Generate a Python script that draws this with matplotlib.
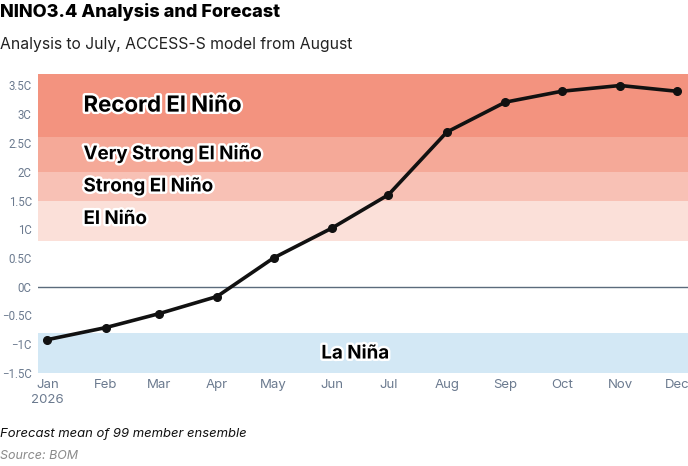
import matplotlib
matplotlib.use("Agg")
import matplotlib.pyplot as plt
import matplotlib.patheffects as pe
import matplotlib.dates as mdates
from datetime import date

plt.rcParams['font.family'] = ['Inter', 'DejaVu Sans']

months = ["Jan", "Feb", "Mar", "Apr", "May", "Jun", "Jul", "Aug", "Sep", "Oct", "Nov", "Dec"]
values = [-0.92, -0.71, -0.47, -0.17, 0.50, 1.02, 1.60, 2.69, 3.21, 3.40, 3.50, 3.40]
dates = [date(2026, m, 1) for m in range(1, 13)]
yticks = [-1.5, -1.0, -0.5, 0.0, 0.5, 1.0, 1.5, 2.0, 2.5, 3.0, 3.5]
ytick_labels = ["−1.5C", "−1C", "−0.5C", "0C", "0.5C", "1C", "1.5C", "2C", "2.5C", "3C", "3.5C"]

bands = [
    ("Record El Niño", 2.6, 3.7, "#f3937f"),
    ("Very Strong El Niño", 2.0, 2.6, "#f5a998"),
    ("Strong El Niño", 1.5, 2.0, "#f8c1b5"),
    ("El Niño", 0.8, 1.5, "#fbe0d9"),
    ("La Niña", -1.5, -0.8, "#d3e8f5"),
]

fig = plt.figure(figsize=(6.88, 4.66), dpi=100)
ax = fig.add_axes([38/688, 93/466, 650/688, 299/466])

for name, lo, hi, col in bands:
    ax.axhspan(lo, hi, color=col, lw=0, zorder=0)

ax.axhline(0, color="#5b6b7c", lw=1, zorder=1)

xn = mdates.date2num(dates)
ax.plot(xn, values, color="#111111", lw=2.6, marker="o", ms=5.5, zorder=3,
        solid_capstyle="round")

ax.set_xlim(mdates.date2num(date(2025, 12, 27)), mdates.date2num(date(2026, 12, 7)))
ax.set_ylim(-1.5, 3.7)

ax.set_yticks(yticks)
ax.set_yticklabels(ytick_labels, family=["Roboto", "DejaVu Sans"])
ax.set_xticks(xn)
xl = list(months)
xl[0] = "Jan\n2026"
ax.set_xticklabels(xl, va="top", linespacing=1.35)

for s in ax.spines.values():
    s.set_visible(False)
ax.tick_params(length=0, colors="#6b7a8f", labelsize=9.5)
ax.tick_params(axis="y", pad=4.5, labelsize=8.3)
ax.tick_params(axis="x", pad=4)

stroke = [pe.withStroke(linewidth=3.5, foreground="white")]
label_pos = {
    "Record El Niño": (0.07, 3.15, 16),
    "Very Strong El Niño": (0.07, 2.30, 13.5),
    "Strong El Niño": (0.07, 1.74, 13.5),
    "El Niño": (0.07, 1.17, 13.5),
}
for name, (xa, y, fs) in label_pos.items():
    ax.text(xa, y, name, transform=ax.get_yaxis_transform(), fontsize=fs,
            fontweight="bold", color="black", va="center", ha="left",
            path_effects=stroke, zorder=4)
ax.text(0.488, -1.17, "La Niña", transform=ax.get_yaxis_transform(), fontsize=13.5,
        fontweight="bold", color="black", va="center", ha="center",
        path_effects=stroke, zorder=4)

fig.text(0.0, 1 - 12/466, "NINO3.4 Analysis and Forecast", fontsize=13,
         fontweight="heavy", va="center", ha="left", color="black")
fig.text(0.0, 1 - 45/466, "Analysis to July, ACCESS-S model from August", fontsize=11.3,
         va="center", ha="left", color="#222222")
fig.text(0.0, 1 - 434/466, "Forecast mean of 99 member ensemble", fontsize=9.4,
         style="italic", va="center", ha="left", color="#111111")
fig.text(0.0, 1 - 456/466, "Source: BOM", fontsize=9,
         style="italic", va="center", ha="left", color="#8a8a8a")

fig.savefig("out.png", dpi=100)
